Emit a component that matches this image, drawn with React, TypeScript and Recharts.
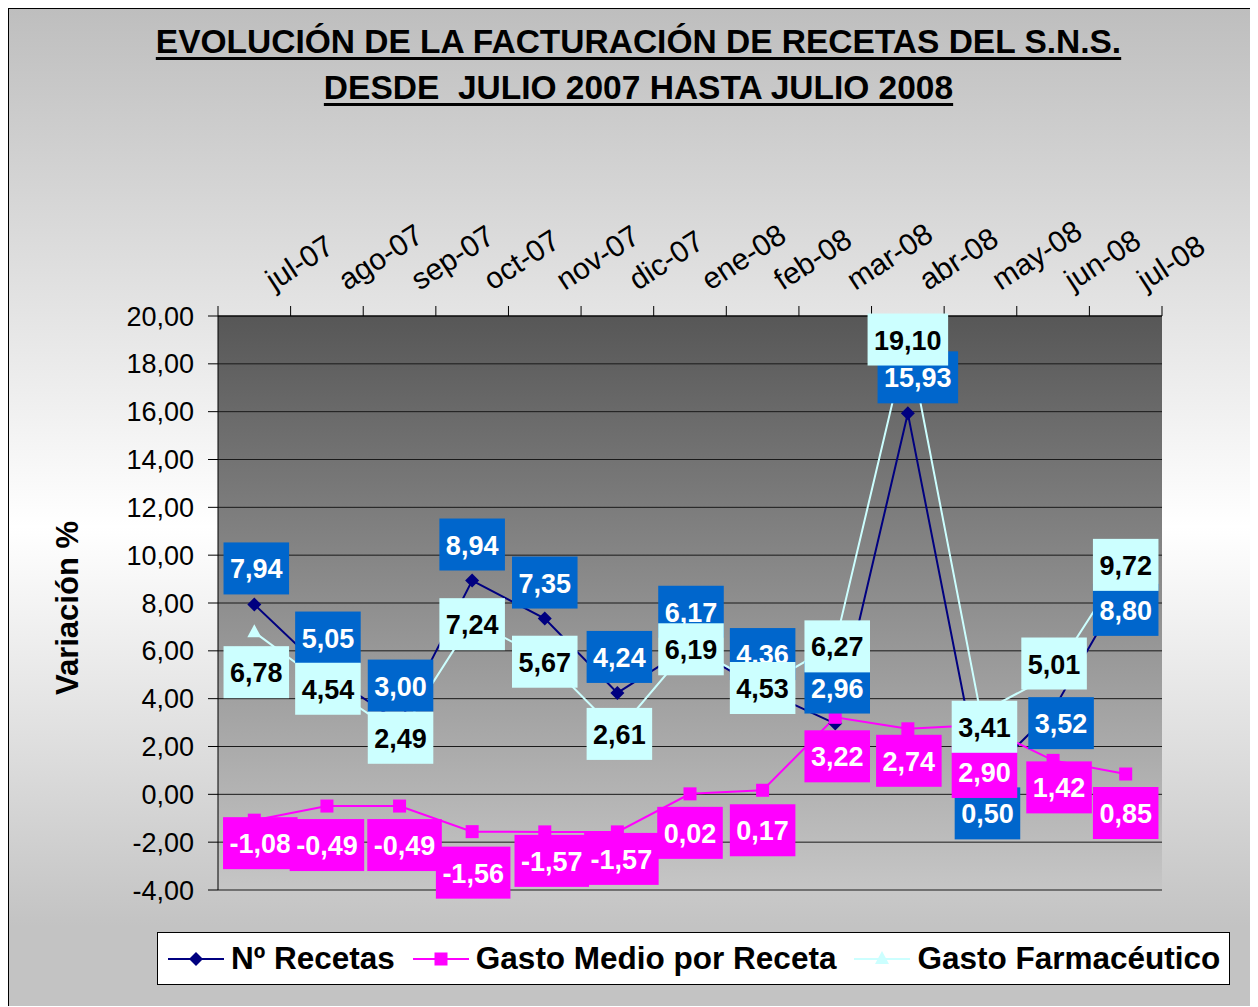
import React from 'react';
import { LineChart, Line, XAxis, YAxis, CartesianGrid, LabelList } from 'recharts';

// Categorías (meses) y series
const MESES = ['jul-07', 'ago-07', 'sep-07', 'oct-07', 'nov-07', 'dic-07', 'ene-08', 'feb-08', 'mar-08', 'abr-08', 'may-08', 'jun-08', 'jul-08'];
const N_RECETAS = [7.94, 5.05, 3.0, 8.94, 7.35, 4.24, 6.17, 4.36, 2.96, 15.93, 0.5, 3.52, 8.8];
const GASTO_MEDIO = [-1.08, -0.49, -0.49, -1.56, -1.57, -1.57, 0.02, 0.17, 3.22, 2.74, 2.9, 1.42, 0.85];
const GASTO_FARMA = [6.78, 4.54, 2.49, 7.24, 5.67, 2.61, 6.19, 4.53, 6.27, 19.1, 3.41, 5.01, 9.72];
const Y_TICKS = [-4, -2, 0, 2, 4, 6, 8, 10, 12, 14, 16, 18, 20];

// desplazamiento de cada etiqueta respecto a su punto [dx, dy] (colocadas a mano en el original)
const SHIFT_RECETAS = [[2, -36], [1, -36], [1, -37], [0, -36], [0, -36], [2, -36], [1, -35], [0, -36], [2, -36], [10, -36], [7, 31], [8, 13], [0, 26]];
const SHIFT_MEDIO = [[6, 23], [0, 39], [5, 39], [1, 41], [7, 29], [4, 27], [0, 39], [0, 40], [2, 39], [1, 32], [4, 47], [6, 27], [0, 39]];
const SHIFT_FARMA = [[2, 40], [1, 3], [1, 3], [0, 3], [0, 3], [2, 2], [1, 3], [0, 2], [2, 2], [0, 2], [4, 14], [1, -11], [0, 3]];

const data = MESES.map((mes, i) => ({
  mes,
  rec: N_RECETAS[i],
  medio: GASTO_MEDIO[i],
  farma: GASTO_FARMA[i],
}));

const FONT = '"Liberation Sans", Arial, sans-serif';
const W = 1249;
const H = 998;
const PLOT_LEFT = 210;
const PLOT_RIGHT = 1154;
const PLOT_TOP = 308;
const PLOT_BOTTOM = 882;
const XAXIS_H = 60;
const YAXIS_W = 60;
const BW = (PLOT_RIGHT - PLOT_LEFT) / MESES.length;

const fmt = (v: number) => v.toFixed(2).replace('.', ',');

const textWidth = (s: string, size: number) => {
  let w = 0;
  for (const ch of s) {
    if (ch === ',' || ch === '.') w += 0.278;
    else if (ch === '-') w += 0.333;
    else w += 0.556;
  }
  return w * size;
};

const makeLabel = (shift: number[][], bg: string, fg: string) => (props: any) => {
  const { value, index } = props;
  const vb = props.viewBox || {};
  const px = typeof props.x === 'number' ? props.x : vb.x;
  const py = typeof props.y === 'number' ? props.y : vb.y;
  if (typeof px !== 'number' || typeof py !== 'number') return null;
  const [dx, dy] = shift[index] || [0, 0];
  const txt = fmt(Number(value));
  const w = textWidth(txt, 27) + 13;
  const cx = px + dx;
  const cy = py + dy;
  return (
    <g key={`lbl-${index}`}>
      <rect x={cx - w / 2} y={cy - 26} width={w} height={52} fill={bg} />
      <text x={cx} y={cy + 10} textAnchor="middle" fontSize={27} fontWeight="bold" fontFamily={FONT} fill={fg}>
        {txt}
      </text>
    </g>
  );
};

const DiamondDot = (p: any) => {
  const { cx, cy, index } = p;
  if (cx == null || cy == null) return <g key={`dd-${index}`} />;
  return <path key={`dd-${index}`} d={`M${cx},${cy - 7}L${cx + 7},${cy}L${cx},${cy + 7}L${cx - 7},${cy}Z`} fill="#000080" />;
};

const SquareDot = (p: any) => {
  const { cx, cy, index } = p;
  if (cx == null || cy == null) return <g key={`sd-${index}`} />;
  return <rect key={`sd-${index}`} x={cx - 6.5} y={cy - 6.5} width={13} height={13} fill="#ff00ff" />;
};

const TriangleDot = (p: any) => {
  const { cx, cy, index } = p;
  if (cx == null || cy == null) return <g key={`td-${index}`} />;
  return <path key={`td-${index}`} d={`M${cx},${cy - 8}L${cx + 7},${cy + 5}L${cx - 7},${cy + 5}Z`} fill="#ccffff" />;
};

const MonthTick = (props: any) => {
  const { x, payload, index } = props;
  const tx = x + 20;
  const ty = PLOT_TOP - 25;
  return (
    <g>
      <line x1={x - BW / 2} x2={x - BW / 2} y1={PLOT_TOP} y2={PLOT_TOP - 10} stroke="#000" />
      {index === MESES.length - 1 && (
        <line x1={x + BW / 2} x2={x + BW / 2} y1={PLOT_TOP} y2={PLOT_TOP - 10} stroke="#000" />
      )}
      <text x={tx} y={ty} transform={`rotate(-33 ${tx} ${ty})`} fontSize={30} fontFamily={FONT} fill="#000">
        {payload.value}
      </text>
    </g>
  );
};

const LegendIcon = ({ color, shape }: { color: string; shape: string }) => (
  <svg width={56} height={20} style={{ marginRight: 7, flex: 'none' }}>
    <line x1={0} x2={56} y1={10} y2={10} stroke={color} strokeWidth={2} />
    {shape === 'diamond' && <path d="M28,3L35,10L28,17L21,10Z" fill={color} />}
    {shape === 'square' && <rect x={21.5} y={3.5} width={13} height={13} fill={color} />}
    {shape === 'triangle' && <path d="M28,2L35,15L21,15Z" fill={color} />}
  </svg>
);

const LEGEND = [
  { name: 'Nº Recetas', color: '#000080', shape: 'diamond' },
  { name: 'Gasto Medio por Receta', color: '#ff00ff', shape: 'square' },
  { name: 'Gasto Farmacéutico', color: '#ccffff', shape: 'triangle' },
];

export default function App() {
  return (
    <div
      style={{
        position: 'relative',
        width: W,
        height: H,
        background: 'linear-gradient(to bottom, #bebebe 0%, #ffffff 52%, #c3c3c3 92%, #c3c3c3 100%)',
        boxShadow: 'inset 1px 1px 0 #000',
        fontFamily: FONT,
      }}
    >
      <LineChart
        width={W}
        height={H}
        data={data}
        margin={{ top: PLOT_TOP - XAXIS_H, left: PLOT_LEFT - YAXIS_W, right: W - PLOT_RIGHT, bottom: H - PLOT_BOTTOM }}
      >
        <defs>
          <linearGradient id="plotBg" x1="0" y1="0" x2="0" y2="1">
            <stop offset="0" stopColor="#575757" />
            <stop offset="1" stopColor="#c6c6c6" />
          </linearGradient>
        </defs>
        <CartesianGrid vertical={false} stroke="#1a1a1a" fill="url(#plotBg)" fillOpacity={1} />
        <XAxis
          dataKey="mes"
          orientation="top"
          height={XAXIS_H}
          interval={0}
          padding={{ left: BW / 2, right: BW / 2 }}
          tickLine={false}
          axisLine={{ stroke: '#000' }}
          tick={<MonthTick />}
        />
        <YAxis
          domain={[-4, 20]}
          ticks={Y_TICKS}
          interval={0}
          width={YAXIS_W}
          tickFormatter={fmt}
          tickSize={10}
          tickMargin={14}
          tickLine={{ stroke: '#000' }}
          axisLine={{ stroke: '#000' }}
          tick={{ fontSize: 27, fill: '#000', fontFamily: FONT }}
        />
        <YAxis yAxisId="r" orientation="right" domain={[-4, 20]} width={0} tick={false} tickLine={false} axisLine={{ stroke: '#8a8a8a', strokeWidth: 2 }} />
        <Line dataKey="rec" stroke="#000080" strokeWidth={2} dot={DiamondDot} activeDot={false} isAnimationActive={false} />
        <Line dataKey="medio" stroke="#ff00ff" strokeWidth={2} dot={SquareDot} activeDot={false} isAnimationActive={false} />
        <Line dataKey="farma" stroke="#ccffff" strokeWidth={2} dot={TriangleDot} activeDot={false} isAnimationActive={false} />
        {/* capas de etiquetas, encima de todas las líneas */}
        <Line dataKey="rec" stroke="none" dot={false} activeDot={false} legendType="none" isAnimationActive={false}>
          <LabelList dataKey="rec" content={makeLabel(SHIFT_RECETAS, '#0066cc', '#ffffff')} />
        </Line>
        <Line dataKey="medio" stroke="none" dot={false} activeDot={false} legendType="none" isAnimationActive={false}>
          <LabelList dataKey="medio" content={makeLabel(SHIFT_MEDIO, '#ff00ff', '#ffffff')} />
        </Line>
        <Line dataKey="farma" stroke="none" dot={false} activeDot={false} legendType="none" isAnimationActive={false}>
          <LabelList dataKey="farma" content={makeLabel(SHIFT_FARMA, '#ccffff', '#000000')} />
        </Line>
      </LineChart>

      <div
        style={{
          position: 'absolute',
          top: 11,
          left: 0,
          width: 1261,
          textAlign: 'center',
          fontSize: 33.5,
          fontWeight: 'bold',
          lineHeight: '46px',
          textDecoration: 'underline',
          textDecorationThickness: '3px',
          textUnderlineOffset: '4px',
          whiteSpace: 'pre',
        }}
      >
        <div>EVOLUCIÓN DE LA FACTURACIÓN DE RECETAS DEL S.N.S.</div>
        <div>DESDE  JULIO 2007 HASTA JULIO 2008</div>
      </div>

      <div
        style={{
          position: 'absolute',
          left: 60,
          top: 600,
          transform: 'translate(-50%, -50%) rotate(-90deg)',
          fontSize: 31,
          fontWeight: 'bold',
          whiteSpace: 'nowrap',
        }}
      >
        Variación %
      </div>

      <div
        style={{
          position: 'absolute',
          left: 149,
          top: 924,
          width: 1073,
          height: 53,
          boxSizing: 'border-box',
          background: '#fff',
          border: '1px solid #000',
          display: 'flex',
          alignItems: 'center',
          paddingLeft: 10,
          gap: 18,
          fontSize: 31.5,
          fontWeight: 'bold',
        }}
      >
        {LEGEND.map((it) => (
          <div key={it.name} style={{ display: 'flex', alignItems: 'center', whiteSpace: 'nowrap' }}>
            <LegendIcon color={it.color} shape={it.shape} />
            <span>{it.name}</span>
          </div>
        ))}
      </div>
    </div>
  );
}
